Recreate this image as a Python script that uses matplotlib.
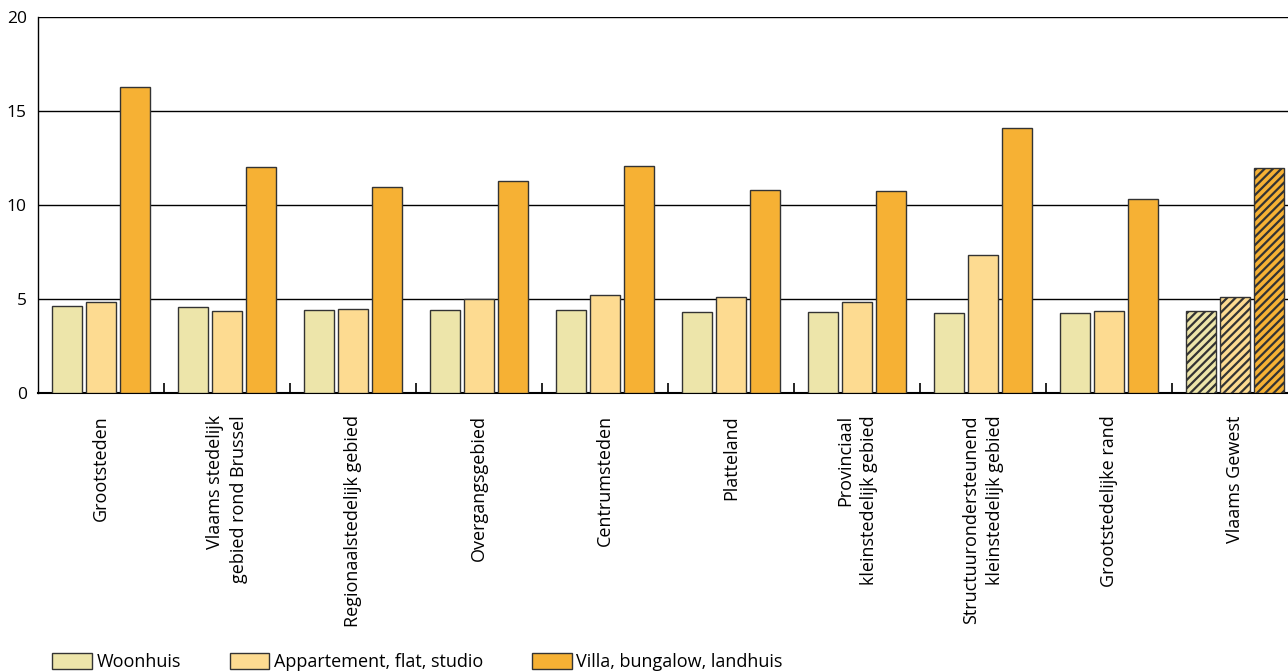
import matplotlib.pyplot as plt
from matplotlib.patches import Patch
import numpy as np

plt.rcParams["font.family"] = ["Open Sans", "DejaVu Sans"]
plt.rcParams["hatch.linewidth"] = 1.6

regions = [
    "Grootsteden",
    "Vlaams stedelijk\ngebied rond Brussel",
    "Regionaalstedelijk gebied",
    "Overgangsgebied",
    "Centrumsteden",
    "Platteland",
    "Provinciaal\nkleinstedelijk gebied",
    "Structuurondersteunend\nkleinstedelijk gebied",
    "Grootstedelijke rand",
    "Vlaams Gewest",
]
woonhuis = [4.63, 4.57, 4.41, 4.41, 4.41, 4.31, 4.31, 4.25, 4.25, 4.36]
appartement = [4.84, 4.36, 4.47, 5.00, 5.21, 5.10, 4.84, 7.34, 4.36, 5.10]
villa = [16.28, 12.02, 10.96, 11.28, 12.07, 10.80, 10.74, 14.10, 10.32, 11.97]

series = [
    ("Woonhuis", woonhuis, "#EDE5AA"),
    ("Appartement, flat, studio", appartement, "#FDDB91"),
    ("Villa, bungalow, landhuis", villa, "#F6B134"),
]

fig = plt.figure(figsize=(12.88, 6.71), dpi=100)
ax = fig.add_axes([38 / 1288, 1 - 393 / 671, 1260 / 1288, 376 / 671])

x = np.arange(len(regions))
width = 0.24
step = 0.27

for i, (name, values, color) in enumerate(series):
    bars = ax.bar(
        x + (i - 1) * step,
        values,
        width=width,
        color=color,
        edgecolor="#333333",
        linewidth=1.0,
        zorder=3,
    )
    # last group (Vlaams Gewest) is hatched
    bars[-1].set_hatch("////")

for level in [5, 10, 15, 20]:
    ax.axhline(level, color="black", linewidth=1, zorder=1)

ax.set_xlim(-0.5, len(regions) - 0.5)
ax.set_ylim(0, 20)
ax.set_yticks([0, 5, 10, 15, 20])
ax.tick_params(axis="y", length=0, labelsize=12.5, pad=8)

ax.set_xticks(x)
ax.set_xticklabels(
    regions,
    rotation=90,
    ha="center",
    va="top",
    multialignment="right",
    fontsize=13,
    linespacing=1.45,
)
ax.tick_params(axis="x", length=0, pad=16)

# small separators between groups
ax.vlines(x[1:] - 0.5, 0, 0.55, color="black", linewidth=1.2, zorder=4, clip_on=False)

for side in ["top", "right"]:
    ax.spines[side].set_visible(False)
ax.spines["left"].set_linewidth(1)
ax.spines["bottom"].set_linewidth(1.5)

handles = [
    Patch(facecolor=color, edgecolor="#333333", label=name)
    for name, _, color in series
]
fig.legend(
    handles=handles,
    loc="lower left",
    bbox_to_anchor=(36 / 1288, -0.024),
    ncol=3,
    frameon=False,
    fontsize=13,
    handlelength=2.2,
    handleheight=1.0,
    handletextpad=0.25,
    columnspacing=2.7,
)

plt.savefig("out.png", dpi=100)
plt.close()
